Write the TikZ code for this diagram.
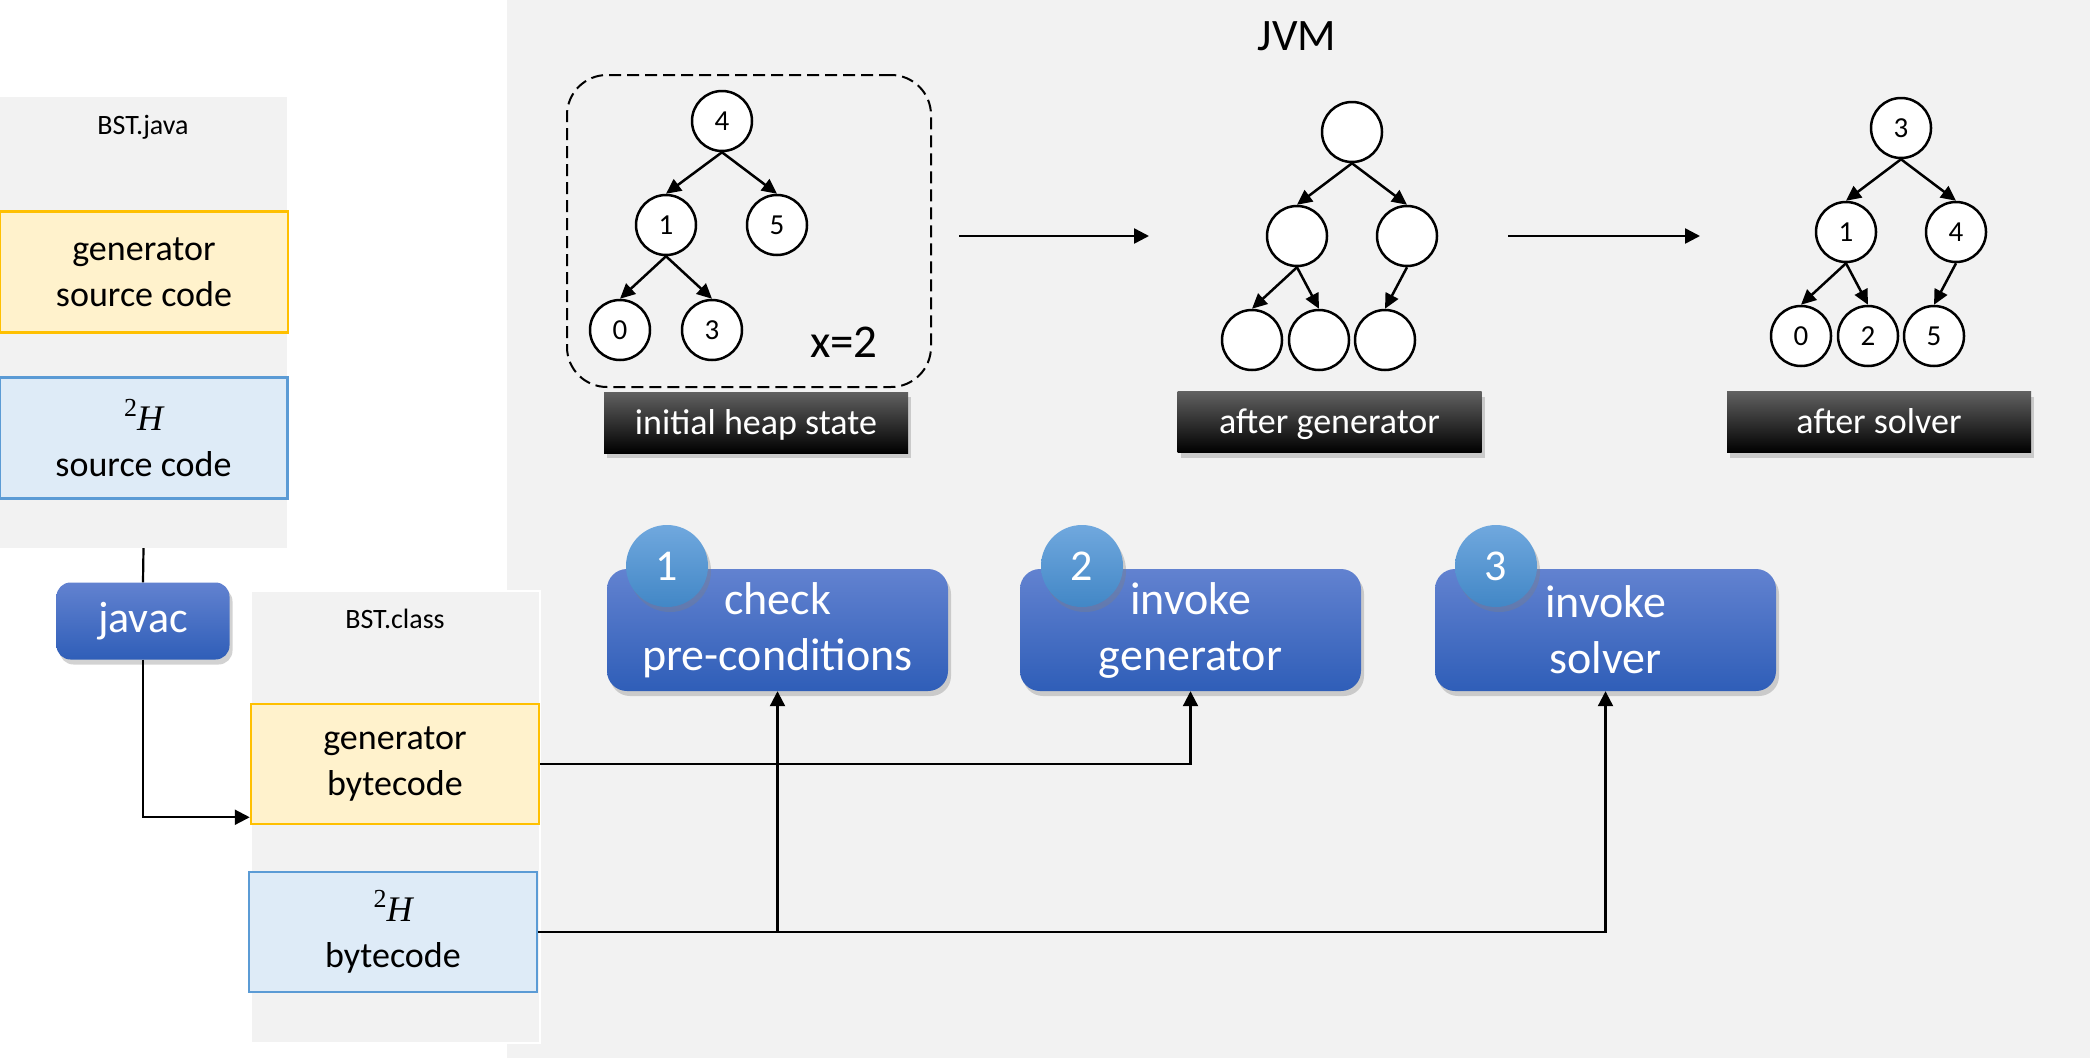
\documentclass[tikz,border=0pt]{standalone}
\usepackage{fontspec}
\setmainfont{Carlito}
\newfontfamily\serifm{Liberation Serif}
\newcommand\sqH{{\serifm\raisebox{0.4em}{\fontsize{26}{30}\selectfont 2}\itshape H}}
\usetikzlibrary{arrows.meta,shadows,calc}
\definecolor{bggray}{HTML}{F2F2F2}
\definecolor{yfill}{HTML}{FFF2CC}
\definecolor{ydraw}{HTML}{FFC000}
\definecolor{bfill}{HTML}{DEEBF7}
\definecolor{bdraw}{HTML}{5B9BD5}
\definecolor{stepTop}{RGB}{98,130,208}
\definecolor{stepBot}{RGB}{47,94,184}
\definecolor{circTop}{RGB}{112,168,222}
\definecolor{circBot}{RGB}{66,135,198}
\tikzset{
  panel/.style={fill=bggray, inner sep=0pt},
  srcbox/.style={line width=2.5pt, minimum width=288pt, minimum height=121pt, align=center, inner sep=0pt, font=\fontsize{36}{46}\selectfont},
  ybox/.style={srcbox, fill=yfill, draw=ydraw},
  bbox/.style={srcbox, fill=bfill, draw=bdraw},
  softshadow/.style={drop shadow={opacity=0.35, shadow xshift=3pt, shadow yshift=-5pt}},
  bluebox/.style={rounded corners=20pt, top color=stepTop, bottom color=stepBot, text=white, align=center, inner sep=0pt, softshadow},
  stepbox/.style={bluebox, minimum width=341pt, minimum height=122pt, font=\fontsize{46}{56}\selectfont},
  numcirc/.style={circle, minimum size=82pt, inner sep=0pt, top color=circTop, bottom color=circBot, text=white, font=\fontsize{44}{52}\selectfont, softshadow},
  tnode/.style={circle, draw, fill=white, line width=2.5pt, minimum size=60pt, inner sep=0pt, font=\fontsize{29}{34}\selectfont},
  tedge/.style={-{Triangle[length=15pt,width=14pt]}, line width=2.5pt},
  conn/.style={-{Triangle[length=15pt,width=15pt]}, line width=2.2pt},
  plainconn/.style={line width=2.2pt},
  lblbox/.style={top color=black!62, middle color=black, bottom color=black, text=white, minimum width=304pt, minimum height=61pt, inner sep=0pt, text depth=2pt, font=\fontsize{36}{44}\selectfont, softshadow},
  small/.style={font=\fontsize{28}{34}\selectfont}
}
\begin{document}
\begin{tikzpicture}[x=1pt,y=-1pt]
\useasboundingbox (0,0) rectangle (2090,1058);
\fill[white] (0,0) rectangle (507,1058);
\fill[bggray] (507,0) rectangle (2090,1058);

% left side
\node[panel, minimum width=287pt, minimum height=451pt] (javaPanel) at (143.5,322.5) {};
\node[small] (javaLbl) at (143,127) {BST.java};
\node[ybox] (genSrc) at (144,272) {generator\\source code};
\node[bbox] (hSrc) at (143.5,438) {\sqH\\source code};
\node[bluebox, minimum width=173pt, minimum height=77pt, rounded corners=14pt, font=\fontsize{44}{52}\selectfont] (javac) at (143,621) {javac};

\node[panel, draw=white, line width=2pt, minimum width=289pt, minimum height=452pt] (classPanel) at (395.5,817) {};
\node[small] (classLbl) at (395,619) {BST.class};
\node[ybox, minimum height=120pt] (genBc) at (395,764) {generator\\bytecode};
\node[bbox, minimum height=120pt] (hBc) at (393,932) {\sqH\\bytecode};

% JVM
\node[font=\fontsize{45}{52}\selectfont] (jvm) at (1297,36) {JVM};

% initial heap
\node[draw, line width=2pt, dash pattern=on 12pt off 6pt, rounded corners=40pt, minimum width=364pt, minimum height=312pt] (heapBox) at (749,231) {};
\node[tnode] (a4) at (722,121) {4};
\node[tnode] (a1) at (666,225) {1};
\node[tnode] (a5) at (777,225) {5};
\node[tnode] (a0) at (620,330) {0};
\node[tnode] (a3) at (712,330) {3};
\draw[tedge] (a4.south) -- (a1.north);
\draw[tedge] (a4.south) -- (a5.north);
\draw[tedge] (a1.south) -- (a0.north);
\draw[tedge] (a1.south) -- (a3.north);
\node[font=\fontsize{47}{54}\selectfont] (xval) at (844,342) {x=2};
\node[lblbox] (initLbl) at (756,422.5) {initial heap state};

% after generator
\node[tnode] (b0) at (1352,132) {};
\node[tnode] (b1) at (1297,236) {};
\node[tnode] (b2) at (1407,236) {};
\node[tnode] (b3) at (1252,340) {};
\node[tnode] (b4) at (1319,340) {};
\node[tnode] (b5) at (1385,340) {};
\draw[tedge] (b0.south) -- (b1.north);
\draw[tedge] (b0.south) -- (b2.north);
\draw[tedge] (b1.south) -- (b3.north);
\draw[tedge] (b1.south) -- (b4.north);
\draw[tedge] (b2.south) -- (b5.north);
\node[lblbox] (genLbl) at (1329.5,422) {after generator};

% after solver
\node[tnode] (c3) at (1901,128) {3};
\node[tnode] (c1) at (1846,232) {1};
\node[tnode] (c4) at (1956,232) {4};
\node[tnode] (c0) at (1801,336) {0};
\node[tnode] (c2) at (1868,336) {2};
\node[tnode] (c5) at (1934,336) {5};
\draw[tedge] (c3.south) -- (c1.north);
\draw[tedge] (c3.south) -- (c4.north);
\draw[tedge] (c1.south) -- (c0.north);
\draw[tedge] (c1.south) -- (c2.north);
\draw[tedge] (c4.south) -- (c5.north);
\node[lblbox] (solLbl) at (1879,422) {after solver};

% state arrows
\coordinate (s1a) at (959,236);
\coordinate (s1b) at (1149,236);
\coordinate (s2a) at (1508,236);
\coordinate (s2b) at (1700,236);
\draw[conn, line width=2.5pt] (s1a) -- (s1b);
\draw[conn, line width=2.5pt] (s2a) -- (s2b);

% steps
\node[stepbox] (step1) at (777.5,630) {check\\pre-conditions};
\node[numcirc] (n1) at (667,566) {1};
\node[stepbox] (step2) at (1190.5,630) {invoke\\generator};
\node[numcirc] (n2) at (1082,566) {2};
\node[stepbox] (step3) at (1605.5,630) {invoke\\solver};
\node[numcirc] (n3) at (1496,566) {3};

% connectors
\draw[plainconn] (javaPanel.south) -- (javac.north);
\draw[conn] (javac.south) |- ([yshift=8pt]genBc.south west);
\draw[conn] (genBc.east) -| (step2.south);
\draw[conn] (hBc.east) -| (step3.south);
\draw[conn] (step1.south |- hBc.east) -- (step1.south);
\end{tikzpicture}
\end{document}
